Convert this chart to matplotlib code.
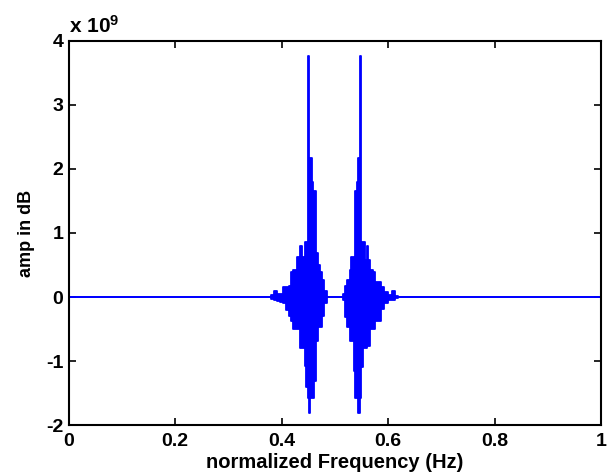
import matplotlib
matplotlib.use("Agg")
import matplotlib.pyplot as plt

plt.rcParams['font.family'] = ['Liberation Sans', 'DejaVu Sans']
plt.rcParams['font.weight'] = 'bold'
plt.rcParams['axes.unicode_minus'] = False
plt.rcParams['mathtext.fontset'] = 'custom'
plt.rcParams['mathtext.rm'] = 'Liberation Sans:bold'
plt.rcParams['mathtext.default'] = 'rm'

# envelope of the spectrum (amplitude in units of 1e9)
freq = [0.0,
        0.380, 0.386, 0.392, 0.397, 0.402, 0.408, 0.413, 0.417, 0.422, 0.428,
        0.435, 0.439, 0.441, 0.443, 0.446, 0.4485, 0.4505, 0.4525, 0.456, 0.459,
        0.461, 0.464, 0.469, 0.472, 0.476, 0.480, 0.485,
        0.515, 0.519, 0.522, 0.528, 0.531, 0.535, 0.538, 0.541, 0.544, 0.5475,
        0.5495, 0.552, 0.556, 0.560, 0.563, 0.566, 0.572, 0.576, 0.582, 0.586,
        0.592, 0.600, 0.607, 0.612, 0.619,
        1.0]
upper = [0.0,
         0.03, 0.09, 0.05, 0.05, 0.15, 0.16, 0.17, 0.39, 0.42, 0.63,
         0.79, 0.63, 0.63, 0.86, 0.86, 3.76, 2.17, 2.17, 1.80, 1.65,
         1.65, 0.68, 0.50, 0.39, 0.26, 0.10, 0.0,
         0.05, 0.18, 0.26, 0.42, 0.63, 0.63, 1.65, 1.80, 2.17, 3.76,
         0.86, 0.86, 0.58, 0.79, 0.58, 0.42, 0.39, 0.24, 0.24, 0.16,
         0.08, 0.03, 0.09, 0.02, 0.0,
         0.0]
lower = [0.0,
         -0.03, -0.05, -0.06, -0.08, -0.10, -0.21, -0.30, -0.37, -0.50, -0.50,
         -0.79, -0.79, -0.50, -1.07, -1.40, -1.57, -1.81, -1.57, -1.57, -1.57,
         -1.31, -0.68, -0.47, -0.47, -0.29, -0.10, 0.0,
         -0.05, -0.31, -0.47, -0.68, -0.68, -1.15, -1.57, -1.57, -1.81, -1.57,
         -1.10, -0.79, -0.79, -0.76, -0.76, -0.50, -0.50, -0.37, -0.37, -0.18,
         -0.10, -0.05, -0.05, -0.02, 0.0,
         0.0]

xticks = [0, 0.2, 0.4, 0.6, 0.8, 1]
xticklabels = ['0', '0.2', '0.4', '0.6', '0.8', '1']
yticks = [-2, -1, 0, 1, 2, 3, 4]

fig = plt.figure(figsize=(6.14, 4.75), dpi=100)
ax = fig.add_axes([0.112, 0.105, 0.867, 0.809])

blue = '#0000ff'
ax.fill_between(freq, lower, upper, step='post', color=blue, linewidth=0)
ax.plot(freq, upper, color=blue, lw=1.3, drawstyle='steps-post')
ax.plot(freq, lower, color=blue, lw=1.3, drawstyle='steps-post')

ax.set_xlim(0, 1)
ax.set_ylim(-2, 4)
ax.set_xticks(xticks)
ax.set_xticklabels(xticklabels)
ax.set_yticks(yticks)
ax.tick_params(direction='in', length=5, width=1.2, top=True, right=True,
               labelsize=14)
ax.tick_params(axis='x', pad=6)
ax.tick_params(axis='y', pad=4)
for sp in ax.spines.values():
    sp.set_linewidth(1.5)

ax.set_xlabel('normalized Frequency (Hz)', fontsize=14.5, fontweight='bold', labelpad=2)
ax.set_ylabel('amp in dB', fontsize=13, fontweight='bold', labelpad=8)
ax.text(0.0, 1.01, r'x 10$^{9}$', transform=ax.transAxes, fontsize=15,
        fontweight='bold', ha='left', va='bottom')

fig.savefig('out.png', dpi=100)
